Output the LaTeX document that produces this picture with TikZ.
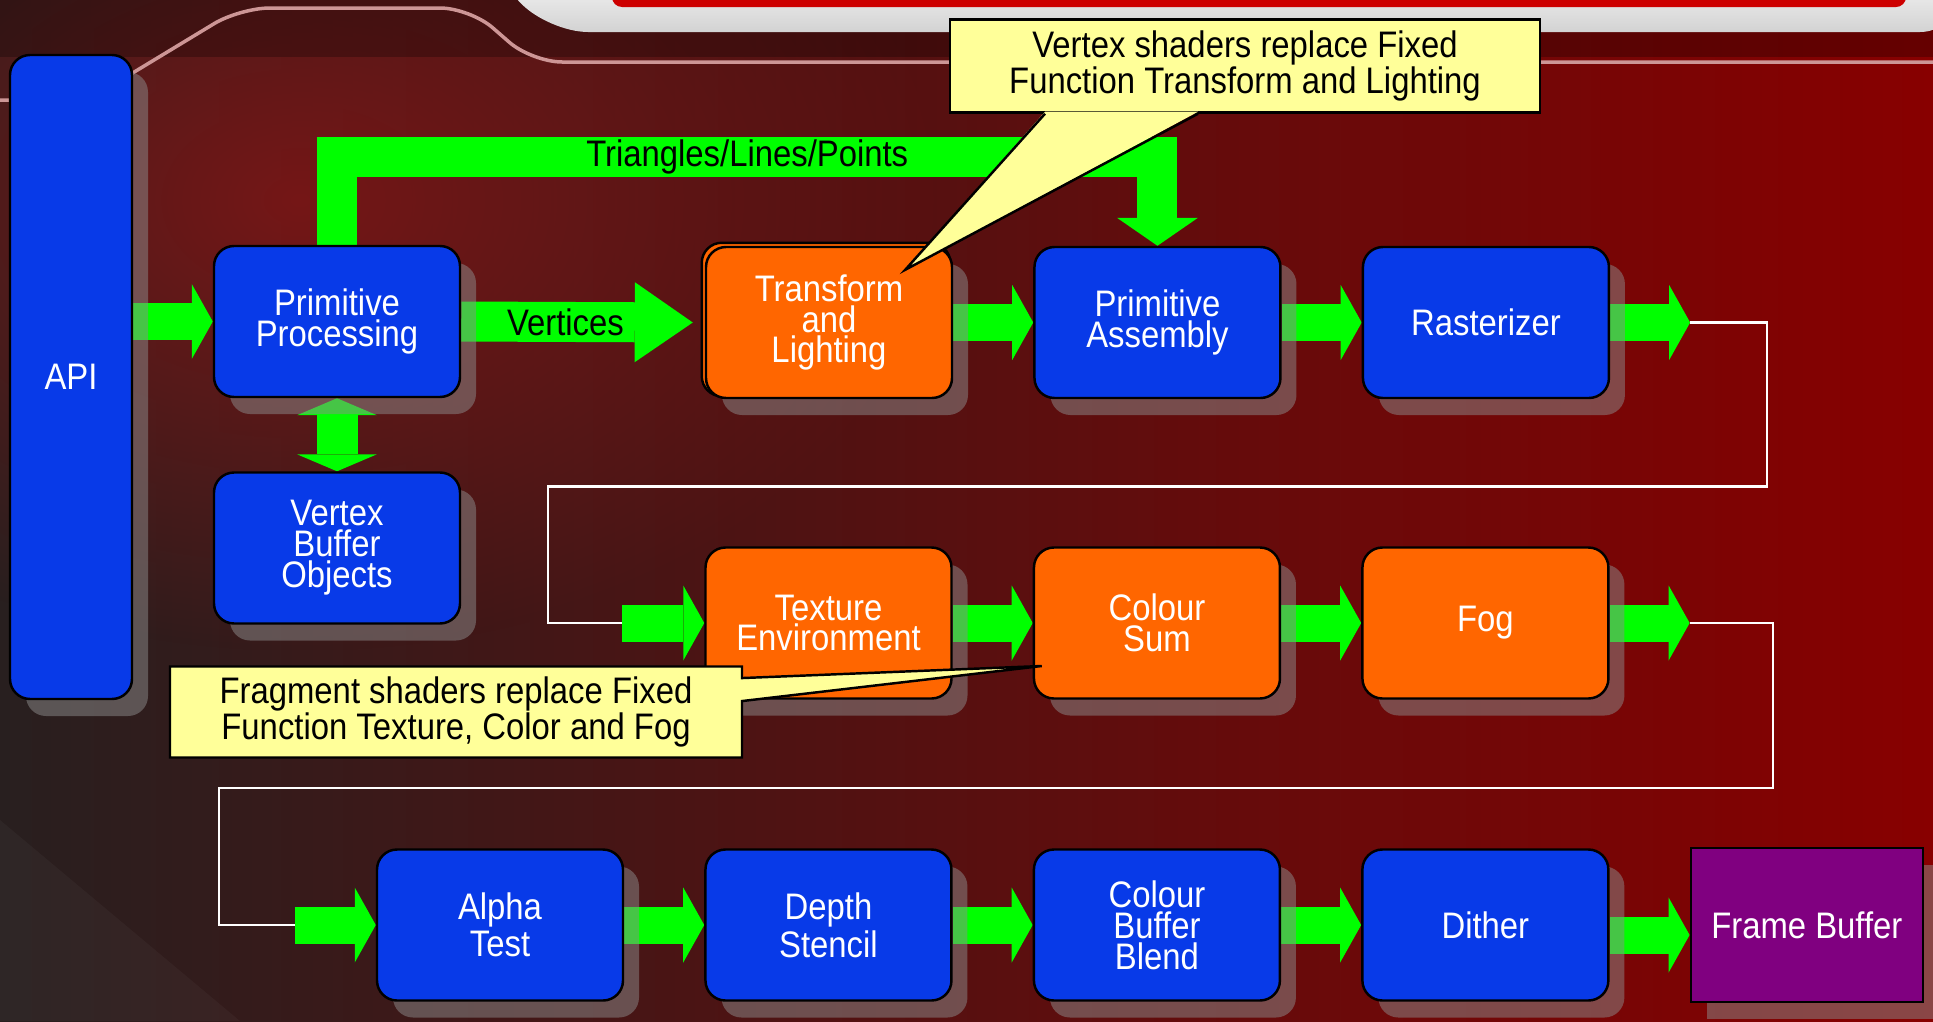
\documentclass[tikz,border=0pt]{standalone}
\usepackage{fontspec}
\newfontfamily\slidefont{Liberation Sans}[FakeStretch=0.89]
\usetikzlibrary{positioning,calc,arrows.meta,shadows,fadings,shapes.callouts}

\definecolor{stageblue}{RGB}{8,58,232}
\definecolor{fixorange}{RGB}{255,102,0}
\definecolor{fbpurple}{RGB}{128,0,128}
\definecolor{flowgreen}{RGB}{0,255,0}
\definecolor{noteyellow}{RGB}{255,255,153}
\definecolor{bgdark}{RGB}{40,31,31}
\definecolor{bgmid}{RGB}{78,20,20}
\definecolor{bgred}{RGB}{136,0,0}
\definecolor{glowred}{RGB}{128,22,22}
\definecolor{trimpink}{RGB}{205,150,150}
\definecolor{trimred}{RGB}{205,0,0}

\newcommand\stagefont{\slidefont\fontsize{10.5pt}{8.8pt}\selectfont}
\newcommand\notefont{\slidefont\fontsize{10.5pt}{10.4pt}\selectfont}

\pgfdeclarelayer{backdrop}
\pgfdeclarelayer{flows}
\pgfsetlayers{backdrop,flows,main}

\tikzfading[name=glowfade, inner color=transparent!15, outer color=transparent!100]

\tikzset{stage/.style={draw=black,line width=0.7pt,rounded corners=2mm,minimum width=24.6mm,minimum
height=15.1mm,inner sep=0pt,align=center,text=white,font=\stagefont,drop shadow={shadow xshift=1.6mm,shadow
yshift=-1.7mm,fill=black!45,opacity=0.5}},ffstage/.style={stage,fill=stageblue},fixstage/.style={stage,fill=fixorange}}
\tikzstyle{flowarrow} = [draw=flowgreen, line width=3.7mm, -{Triangle[length=2.1mm,width=7.5mm,line width=0pt]}]
\tikzstyle{flowtext}  = [text=black, font=\stagefont]
\tikzstyle{wire}      = [draw=white, line width=0.6pt]
\tikzstyle{note}      = [draw=black, line width=0.7pt, fill=noteyellow, inner sep=0pt, align=center, text=black, font=\notefont]

\begin{document}
\begin{tikzpicture}[x=0.1mm, y=-0.1mm, node distance=8mm]
	\useasboundingbox (0,0) rectangle (1933,1021);
	% slide backdrop
	\begin{pgfonlayer}{backdrop}
		\shade[left color=bgdark, middle color=bgmid, right color=bgred] (0,0) rectangle (1933,1021);
		\fill[glowred, path fading=glowfade] (-350,-250) rectangle (950,650);
		\fill[black, opacity=0.25] (0,0) rectangle (1933,57);
		\fill[white, opacity=0.03] (0,820) -- (240,1021) -- (0,1021) -- cycle;
		\shade[top color=white, bottom color=gray!35, rounded corners=4mm] (480,-40) -- (548,32) -- (1960,32) -- (1960,-40) -- cycle;
		\fill[trimred, rounded corners=1mm] (612,-20) rectangle (1906,7);
		\draw[trimpink, line width=0.35mm, rounded corners=3mm] (0,100) -- (88,100) -- (240,8) -- (470,8) -- (532,62) -- (1933,62);
	\end{pgfonlayer}

	% pipeline stages
	\node[ffstage, minimum width=12.2mm, minimum height=64.4mm] (api) at (71,377) {API};
	\node[ffstage] (pp) at (337,321.5) {Primitive\\Processing};
	\node[ffstage] (vbo) at (337,548) {Vertex\\Buffer\\Objects};
	\node[fixstage] (tl) at (829,322.5) {Transform\\and\\Lighting};
	\node[ffstage, right=of tl] (pa) {Primitive\\Assembly};
	\node[ffstage, right=of pa] (ra) {Rasterizer};
	\node[fixstage] (te) at (828.5,623) {Texture\\Environment};
	\node[fixstage, right=of te] (cs) {Colour\\Sum};
	\node[fixstage, right=of cs] (fog) {Fog};
	\node[ffstage] (alpha) at (500,925) {Alpha\\Test};
	\node[ffstage, right=of alpha] (ds) {Depth\\Stencil};
	\node[ffstage, right=of ds] (cbb) {Colour\\Buffer\\Blend};
	\node[ffstage, right=of cbb] (dith) {Dither};
	\node[ffstage, fill=fbpurple, sharp corners, minimum width=23.2mm, minimum height=15.4mm, right=of dith] (fb) {Frame Buffer};

	\coordinate (raout) at ($(ra.east)+(80,0)$);
	\coordinate (tein) at ($(te.west)+(-82,0)$);
	\coordinate (fogout) at ($(fog.east)+(80,0)$);
	\coordinate (alphain) at ($(alpha.west)+(-81,0)$);

	% green data flow and white wraps
	\begin{pgfonlayer}{flows}
		\draw[fill=fixorange, line width=0.7pt, rounded corners=2mm] ($(tl.north west)+(-3,-3)$) rectangle ($(tl.south east)+(-3,-3)$);
		\draw[flowarrow] (pp.west -| api.east) -- (pp.west);
		\draw[flowarrow, line width=4mm, -{Triangle[length=5.8mm,width=8mm,line width=0pt]}] (pp.east) -- node[flowtext, pos=0.45] {Vertices} ($(tl.west)+(-12,0)$);
		\draw[flowarrow, line width=4.1mm, {Triangle[length=1.7mm,width=8mm,line width=0pt]}-{Triangle[length=1.7mm,width=8mm,line width=0pt]}] (pp.south) -- (vbo.north);
		\draw[flowarrow, line width=4mm, -{Triangle[length=2.8mm,width=8.1mm,line width=0pt]}] (pp.north) -- ++(0,-88) -| node[flowtext, pos=0.25] {Triangles/Lines/Points} (pa.north);
		\draw[flowarrow] (tl.east) -- (pa.west);
		\draw[flowarrow] (pa.east) -- (ra.west);
		\draw[flowarrow] (ra.east) -- (raout);
		\draw[wire] (raout) -- ++(77,0) -- ++(0,164) -| ($(tein)+(-74,0)$) -- (tein);
		\draw[flowarrow] (tein) -- (te.west);
		\draw[flowarrow] (te.east) -- (cs.west);
		\draw[flowarrow] (cs.east) -- (fog.west);
		\draw[flowarrow] (fog.east) -- (fogout);
		\draw[wire] (fogout) -- ++(83,0) -- ++(0,165) -| ($(alphain)+(-76,0)$) -- (alphain);
		\draw[flowarrow] (alphain) -- (alpha.west);
		\draw[flowarrow] (alpha.east) -- (ds.west);
		\draw[flowarrow] (ds.east) -- (cbb.west);
		\draw[flowarrow] (cbb.east) -- (dith.west);
		\draw[flowarrow] ([yshift=-1mm]dith.east) -- ([yshift=-1mm]fb.west);
	\end{pgfonlayer}

	% shader notes
	\node[note, minimum width=59mm, minimum height=9.3mm] (vsnote) at (1245,66) {Vertex shaders replace Fixed\\Function Transform and Lighting};
	\coordinate (vstip) at ($(tl.north east)+(-48,24)$);
	\fill[noteyellow] ($(vsnote.south)+(-200,-2)$) -- (vstip) -- ($(vsnote.south)+(-47,-2)$) -- cycle;
	\draw[line width=0.7pt] ($(vsnote.south)+(-200,0)$) -- (vstip) -- ($(vsnote.south)+(-47,0)$);
	\node[note, rectangle callout, callout absolute pointer={($(cs.west)+(9,43)$)}, callout pointer width=2.3mm, minimum width=57.2mm, minimum height=9.1mm] (fsnote) at (456,712) {Fragment shaders replace Fixed\\Function Texture, Color and Fog};
\end{tikzpicture}
\end{document}
